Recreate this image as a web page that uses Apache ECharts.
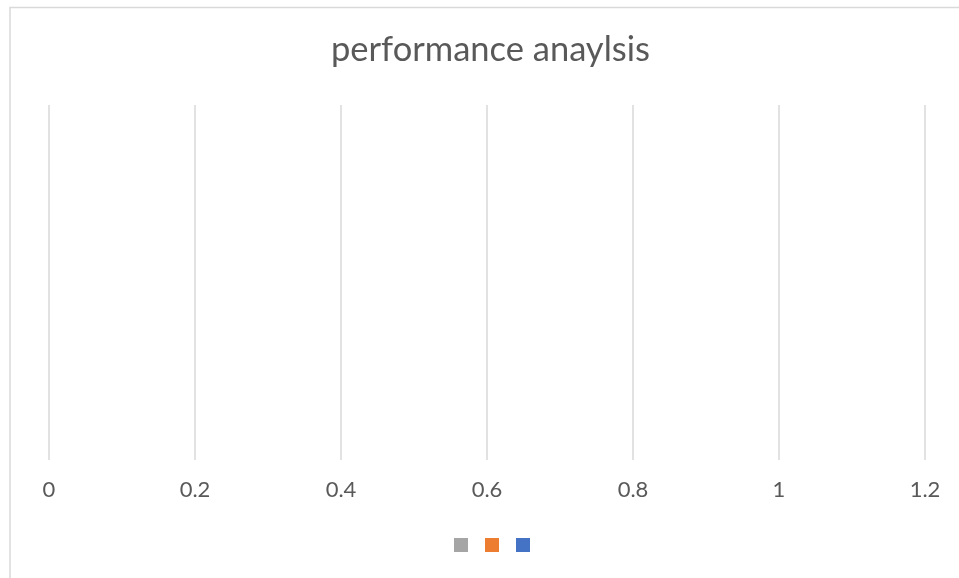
<!DOCTYPE html>
<html>
<head>
<meta charset="utf-8">
<script src="https://cdn.jsdelivr.net/npm/echarts@6/dist/echarts.min.js"></script>
<style>
  html, body { margin: 0; padding: 0; background: #fff; }
  #chart { width: 959px; height: 578px; }
</style>
</head>
<body>
<div id="chart"></div>
<script>
// Chart content
const titleText = 'performance anaylsis';
const categories = [];
const seriesNames = ['Series A', 'Series B', 'Series C'];
const seriesColors = ['#a5a5a5', '#ed7d31', '#4472c4'];
const seriesA = [];
const seriesB = [];
const seriesC = [];
const seriesValues = [seriesA, seriesB, seriesC];
const axisMin = 0;
const axisMax = 1.2;
const axisStep = 0.2;

const FONT = 'Lato';
const chart = echarts.init(document.getElementById('chart'), null, { renderer: 'canvas' });

chart.setOption({
  animation: false,
  backgroundColor: '#ffffff',
  textStyle: { fontFamily: FONT },
  title: {
    text: titleText,
    left: 331,
    top: 32,
    padding: 0,
    textStyle: { fontFamily: FONT, fontSize: 34.5, fontWeight: 'normal', color: '#595959' }
  },
  legend: {
    data: seriesNames,
    top: 538,
    left: 454,
    padding: 0,
    itemWidth: 14,
    itemHeight: 14,
    itemGap: 17,
    icon: 'rect',
    formatter: () => '',
    textStyle: { fontSize: 1 }
  },
  grid: { left: 49, right: 34, top: 105, bottom: 118, containLabel: false },
  xAxis: {
    type: 'value',
    min: axisMin,
    max: axisMax,
    interval: axisStep,
    axisLine: { show: false },
    axisTick: { show: false },
    axisLabel: {
      margin: 19,
      fontSize: 22,
      color: '#595959',
      fontFamily: FONT
    },
    splitLine: { show: true, lineStyle: { color: '#d9d9d9', width: 1.5 } }
  },
  yAxis: {
    type: 'category',
    data: categories,
    show: false
  },
  series: seriesNames.map((name, i) => ({
    name: name,
    type: 'bar',
    data: seriesValues[i],
    itemStyle: { color: seriesColors[i] }
  })),
  graphic: [{
    type: 'rect',
    shape: { x: 10, y: 7.5, width: 1000, height: 1000 },
    style: { fill: 'none', stroke: '#d9d9d9', lineWidth: 1.5 },
    silent: true
  }]
});
</script>
</body>
</html>
